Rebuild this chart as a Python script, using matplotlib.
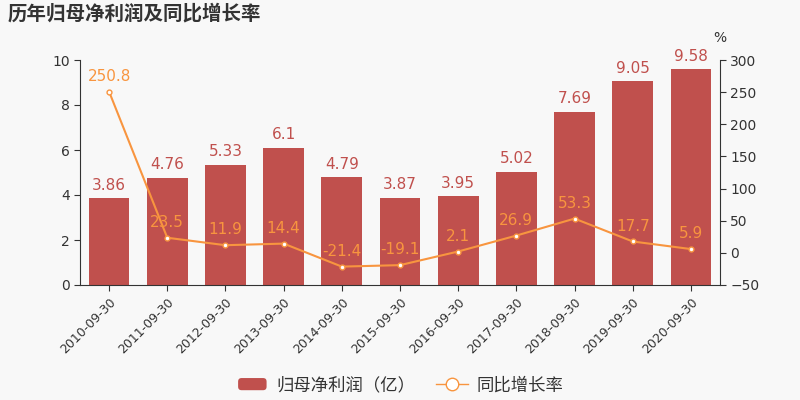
import numpy as np
import matplotlib.pyplot as plt
from matplotlib.lines import Line2D
from matplotlib.patches import FancyBboxPatch
from matplotlib.legend_handler import HandlerPatch

plt.rcParams['font.family'] = ['Noto Sans CJK SC', 'DejaVu Sans']

# 数据
dates = ['2010-09-30', '2011-09-30', '2012-09-30', '2013-09-30', '2014-09-30',
         '2015-09-30', '2016-09-30', '2017-09-30', '2018-09-30', '2019-09-30',
         '2020-09-30']
profit = [3.86, 4.76, 5.33, 6.1, 4.79, 3.87, 3.95, 5.02, 7.69, 9.05, 9.58]
growth = [250.8, 23.5, 11.9, 14.4, -21.4, -19.1, 2.1, 26.9, 53.3, 17.7, 5.9]

bar_color = '#c0504d'
line_color = '#f8953f'
text_color = '#333333'
bg = '#f8f8f8'

fig = plt.figure(figsize=(8, 4), dpi=100, facecolor=bg)
ax = fig.add_axes([0.1, 0.2875, 0.8, 0.5625], facecolor=bg)
ax2 = ax.twinx()

x = np.arange(len(dates))
ax.bar(x, profit, width=0.7, color=bar_color, zorder=2)
for xi, v in zip(x, profit):
    ax.text(xi, v + 0.25, f'{v:g}', ha='center', va='bottom',
            color=bar_color, fontsize=11, family='DejaVu Sans')

ax.set_xlim(-0.5, len(dates) - 0.5)
ax.set_ylim(0, 10)
ax.set_yticks([0, 2, 4, 6, 8, 10])
ax.set_xticks(x)
ax.set_xticklabels(dates, rotation=45, ha='right', rotation_mode='anchor',
                   fontsize=9, family='DejaVu Sans', color=text_color)
for lab in ax.get_yticklabels():
    lab.set_fontsize(10)
    lab.set_color(text_color)
    lab.set_family('DejaVu Sans')
ax.tick_params(axis='both', direction='out', length=4, color=text_color)

ax2.plot(x, growth, color=line_color, lw=1.5, marker='o', markersize=3.5,
         markerfacecolor='white', markeredgecolor=line_color, markeredgewidth=1, zorder=3)
for xi, v in zip(x, growth):
    ax2.text(xi, v + 12, f'{v:g}', ha='center', va='bottom',
             color=line_color, fontsize=11, family='DejaVu Sans')
ax2.set_ylim(-50, 300)
ax2.set_yticks([-50, 0, 50, 100, 150, 200, 250, 300])
for lab in ax2.get_yticklabels():
    lab.set_fontsize(10)
    lab.set_color(text_color)
    lab.set_family('DejaVu Sans')
ax2.tick_params(axis='y', direction='out', length=4, color=text_color)

for a in (ax, ax2):
    a.spines['top'].set_visible(False)
    for s in ('left', 'right', 'bottom'):
        a.spines[s].set_color(text_color)
ax.spines['right'].set_visible(False)
ax2.spines['left'].set_visible(False)
ax2.spines['bottom'].set_visible(False)

fig.text(0.9, 0.905, '%', ha='center', va='center', fontsize=10,
         color=text_color, family='DejaVu Sans')
fig.text(0.01, 0.965, '历年归母净利润及同比增长率', ha='left', va='center',
         fontsize=14, fontweight='bold', color=text_color)


class RoundHandler(HandlerPatch):
    def create_artists(self, legend, orig_handle, xdescent, ydescent,
                       width, height, fontsize, trans):
        p = FancyBboxPatch((-xdescent + 1, -ydescent), width - 2, height,
                           boxstyle='round,pad=0,rounding_size=2.5',
                           facecolor=bar_color, edgecolor='none', transform=trans)
        return [p]


bar_handle = FancyBboxPatch((0, 0), 1, 1, facecolor=bar_color)
line_handle = Line2D([0], [0], color=line_color, lw=1, marker='o', markersize=9,
                     markerfacecolor='white', markeredgecolor=line_color)
fig.legend([bar_handle, line_handle], ['归母净利润（亿）', '同比增长率'], loc='center',
           bbox_to_anchor=(0.5, 0.037), ncol=2, frameon=False, fontsize=12.5,
           labelcolor=text_color, handlelength=1.8, columnspacing=1.2,
           handletextpad=0.5, handler_map={FancyBboxPatch: RoundHandler()})

fig.savefig('out.png', dpi=100, facecolor=bg)
